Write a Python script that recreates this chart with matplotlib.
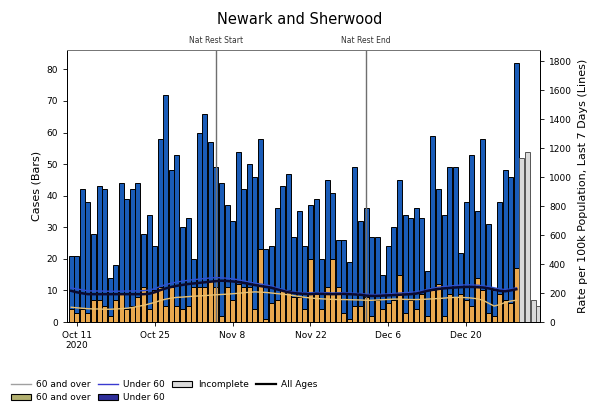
import matplotlib
matplotlib.use("Agg")
import matplotlib.pyplot as plt
import matplotlib.dates as mdates
from matplotlib.lines import Line2D
from matplotlib.patches import Patch
import pandas as pd
import numpy as np

# ---------------- data ----------------
start_date = "2020-10-10"
n_complete = 81
# total daily cases (bars 1..81 complete)
total_cases = [21, 21, 42, 38, 28, 43, 42, 14, 18, 44, 39, 42, 44, 28, 34, 24,
               58, 72, 48, 53, 30, 33, 20, 60, 66, 57, 49, 44, 37, 32, 54, 42,
               50, 46, 58, 23, 24, 36, 43, 47, 27, 35, 24, 37, 39, 20, 45, 41,
               26, 26, 19, 49, 32, 36, 27, 27, 15, 24, 30, 45, 34, 33, 36, 33,
               16, 59, 42, 34, 49, 49, 22, 38, 53, 35, 58, 31, 10, 38, 48, 46,
               82]
# cases aged 60 and over (bottom of stack)
over60_cases = [4, 3, 4, 3, 7, 7, 5, 2, 7, 9, 4, 5, 8, 11, 4, 10,
                11, 5, 11, 5, 4, 5, 11, 11, 11, 13, 11, 2, 11, 7, 12, 11,
                11, 4, 23, 1, 6, 7, 10, 10, 8, 8, 4, 20, 9, 4, 11, 20,
                11, 3, 1, 5, 5, 8, 2, 7, 4, 6, 7, 15, 3, 7, 4, 9,
                2, 10, 12, 2, 9, 8, 9, 7, 5, 14, 10, 3, 2, 9, 7, 6,
                17]
# incomplete recent days
incomplete_cases = [52, 54, 7, 5]

# 7-day rates per 100k population
rate_all = [215, 205, 198, 192, 192, 192, 192, 192, 192, 192, 192, 192, 192, 192,
            195, 205, 220, 232, 242, 250, 256, 262, 266, 270, 274, 278, 282, 285,
            283, 280, 276, 270, 262, 255, 248, 242, 236, 225, 215, 205, 200, 196,
            194, 192, 195, 194, 193, 192, 193, 194, 192, 190, 188, 182, 180, 180,
            182, 184, 186, 188, 190, 192, 196, 205, 215, 222, 228, 232, 235, 238,
            240, 242, 242, 240, 238, 232, 224, 215, 212, 218, 226]
rate_under60 = [235, 228, 222, 215, 214, 214, 213, 212, 212, 213, 214, 214, 215, 216,
                220, 230, 245, 258, 268, 276, 282, 288, 292, 296, 300, 304, 306, 305,
                302, 298, 292, 284, 276, 268, 262, 256, 248, 236, 224, 214, 208, 204,
                202, 202, 204, 203, 202, 200, 201, 202, 200, 198, 196, 192, 190, 190,
                192, 194, 197, 200, 202, 205, 208, 215, 225, 234, 240, 245, 248, 252,
                255, 256, 256, 254, 250, 244, 236, 228, 224, 228, 236]
rate_over60 = [102, 98, 95, 92, 90, 90, 88, 88, 90, 92, 95, 100, 108, 115,
               125, 135, 148, 158, 165, 170, 172, 175, 178, 180, 182, 185, 188, 190,
               192, 195, 198, 202, 205, 208, 206, 204, 200, 196, 192, 188, 182, 176,
               170, 166, 162, 160, 158, 156, 155, 155, 154, 153, 152, 150, 150, 152,
               154, 156, 158, 158, 156, 155, 155, 156, 158, 160, 162, 165, 168, 170,
               170, 168, 165, 160, 150, 130, 110, 120, 135, 145, 150]

tick_dates = ["2020-10-11", "2020-10-25", "2020-11-08", "2020-11-22", "2020-12-06", "2020-12-20"]
tick_labels = ["Oct 11\n2020", "Oct 25", "Nov 8", "Nov 22", "Dec 6", "Dec 20"]
event_dates = ["2020-11-05", "2020-12-02"]
event_labels = ["Nat Rest Start", "Nat Rest End"]

title = "Newark and Sherwood"

# ---------------- plot ----------------
dates = pd.date_range(start_date, periods=len(total_cases) + len(incomplete_cases), freq="D")
d_complete = dates[:n_complete]
d_incomplete = dates[n_complete:]
under60_cases = np.array(total_cases) - np.array(over60_cases)

fig = plt.figure(figsize=(6.0, 4.11), dpi=100)
ax = fig.add_axes([0.112, 0.2165, 0.788, 0.6615])

c_orange = "#e9a84e"
c_blue = "#1a5cb8"
ax.bar(d_complete, over60_cases, width=0.9, color=c_orange, edgecolor="black", linewidth=0.7, zorder=2)
ax.bar(d_complete, under60_cases, bottom=over60_cases, width=0.9, color=c_blue,
       edgecolor="black", linewidth=0.7, zorder=2)
ax.bar(d_incomplete, incomplete_cases, width=0.9, color="#dadada", edgecolor="#555555",
       linewidth=0.7, zorder=2)

ax.set_ylim(0, 86.1)
ax.set_yticks(range(0, 81, 10))
x0 = mdates.date2num(dates[0]) - 0.72
x1 = mdates.date2num(dates[-1]) + 0.25
ax.set_xlim(x0, x1)
ax.set_xticks([mdates.date2num(pd.Timestamp(t)) for t in tick_dates])
ax.set_xticklabels(tick_labels)
ax.tick_params(labelsize=6.5, length=3, width=0.6)
ax.set_ylabel("Cases (Bars)", fontsize=8)
for s in ax.spines.values():
    s.set_linewidth(0.7)
ax.spines["top"].set_color("#777777")

ax2 = ax.twinx()
ax2.plot(d_complete, rate_over60, color="#e8c070", lw=1.0, zorder=3)
ax2.plot(d_complete, rate_under60, color="#2f4fd0", lw=1.0, zorder=3)
ax2.plot(d_complete, rate_all, color="#0a0a30", lw=1.8, zorder=4)
ax2.set_ylim(0, 1875)
ax2.set_yticks(range(0, 1801, 200))
ax2.tick_params(labelsize=6.5, length=3, width=0.6)
ax2.set_ylabel("Rate per 100k Population, Last 7 Days (Lines)", fontsize=8)
for s in ax2.spines.values():
    s.set_linewidth(0.7)
ax2.spines["top"].set_color("#777777")

for d, lab in zip(event_dates, event_labels):
    xd = mdates.date2num(pd.Timestamp(d))
    ax.axvline(xd, color="#6f6f6f", lw=1.0, zorder=5)
    ax.text(xd, 86.1 + 1.6, lab, ha="center", va="bottom", fontsize=5.5, color="#333333")

fig.suptitle(title, fontsize=10.5, y=0.97)

handles = [
    Line2D([], [], color="#a0a0a0", lw=1.0),
    Patch(facecolor="#b2b070", edgecolor="black", linewidth=0.8),
    Line2D([], [], color="#3a3ad0", lw=1.0),
    Patch(facecolor="#2e2e9a", edgecolor="black", linewidth=0.8),
    Patch(facecolor="#dadada", edgecolor="black", linewidth=0.8),
    Line2D([], [], color="black", lw=1.6),
]
labels = ["60 and over", "60 and over", "Under 60", "Under 60", "Incomplete", "All Ages"]
fig.legend(handles, labels, loc="upper left", bbox_to_anchor=(0.005, 0.095), ncol=4,
           frameon=False, fontsize=6.5, handlelength=2.2, columnspacing=0.8,
           labelspacing=0.45, handletextpad=0.6)

fig.savefig("out.png", dpi=100)
